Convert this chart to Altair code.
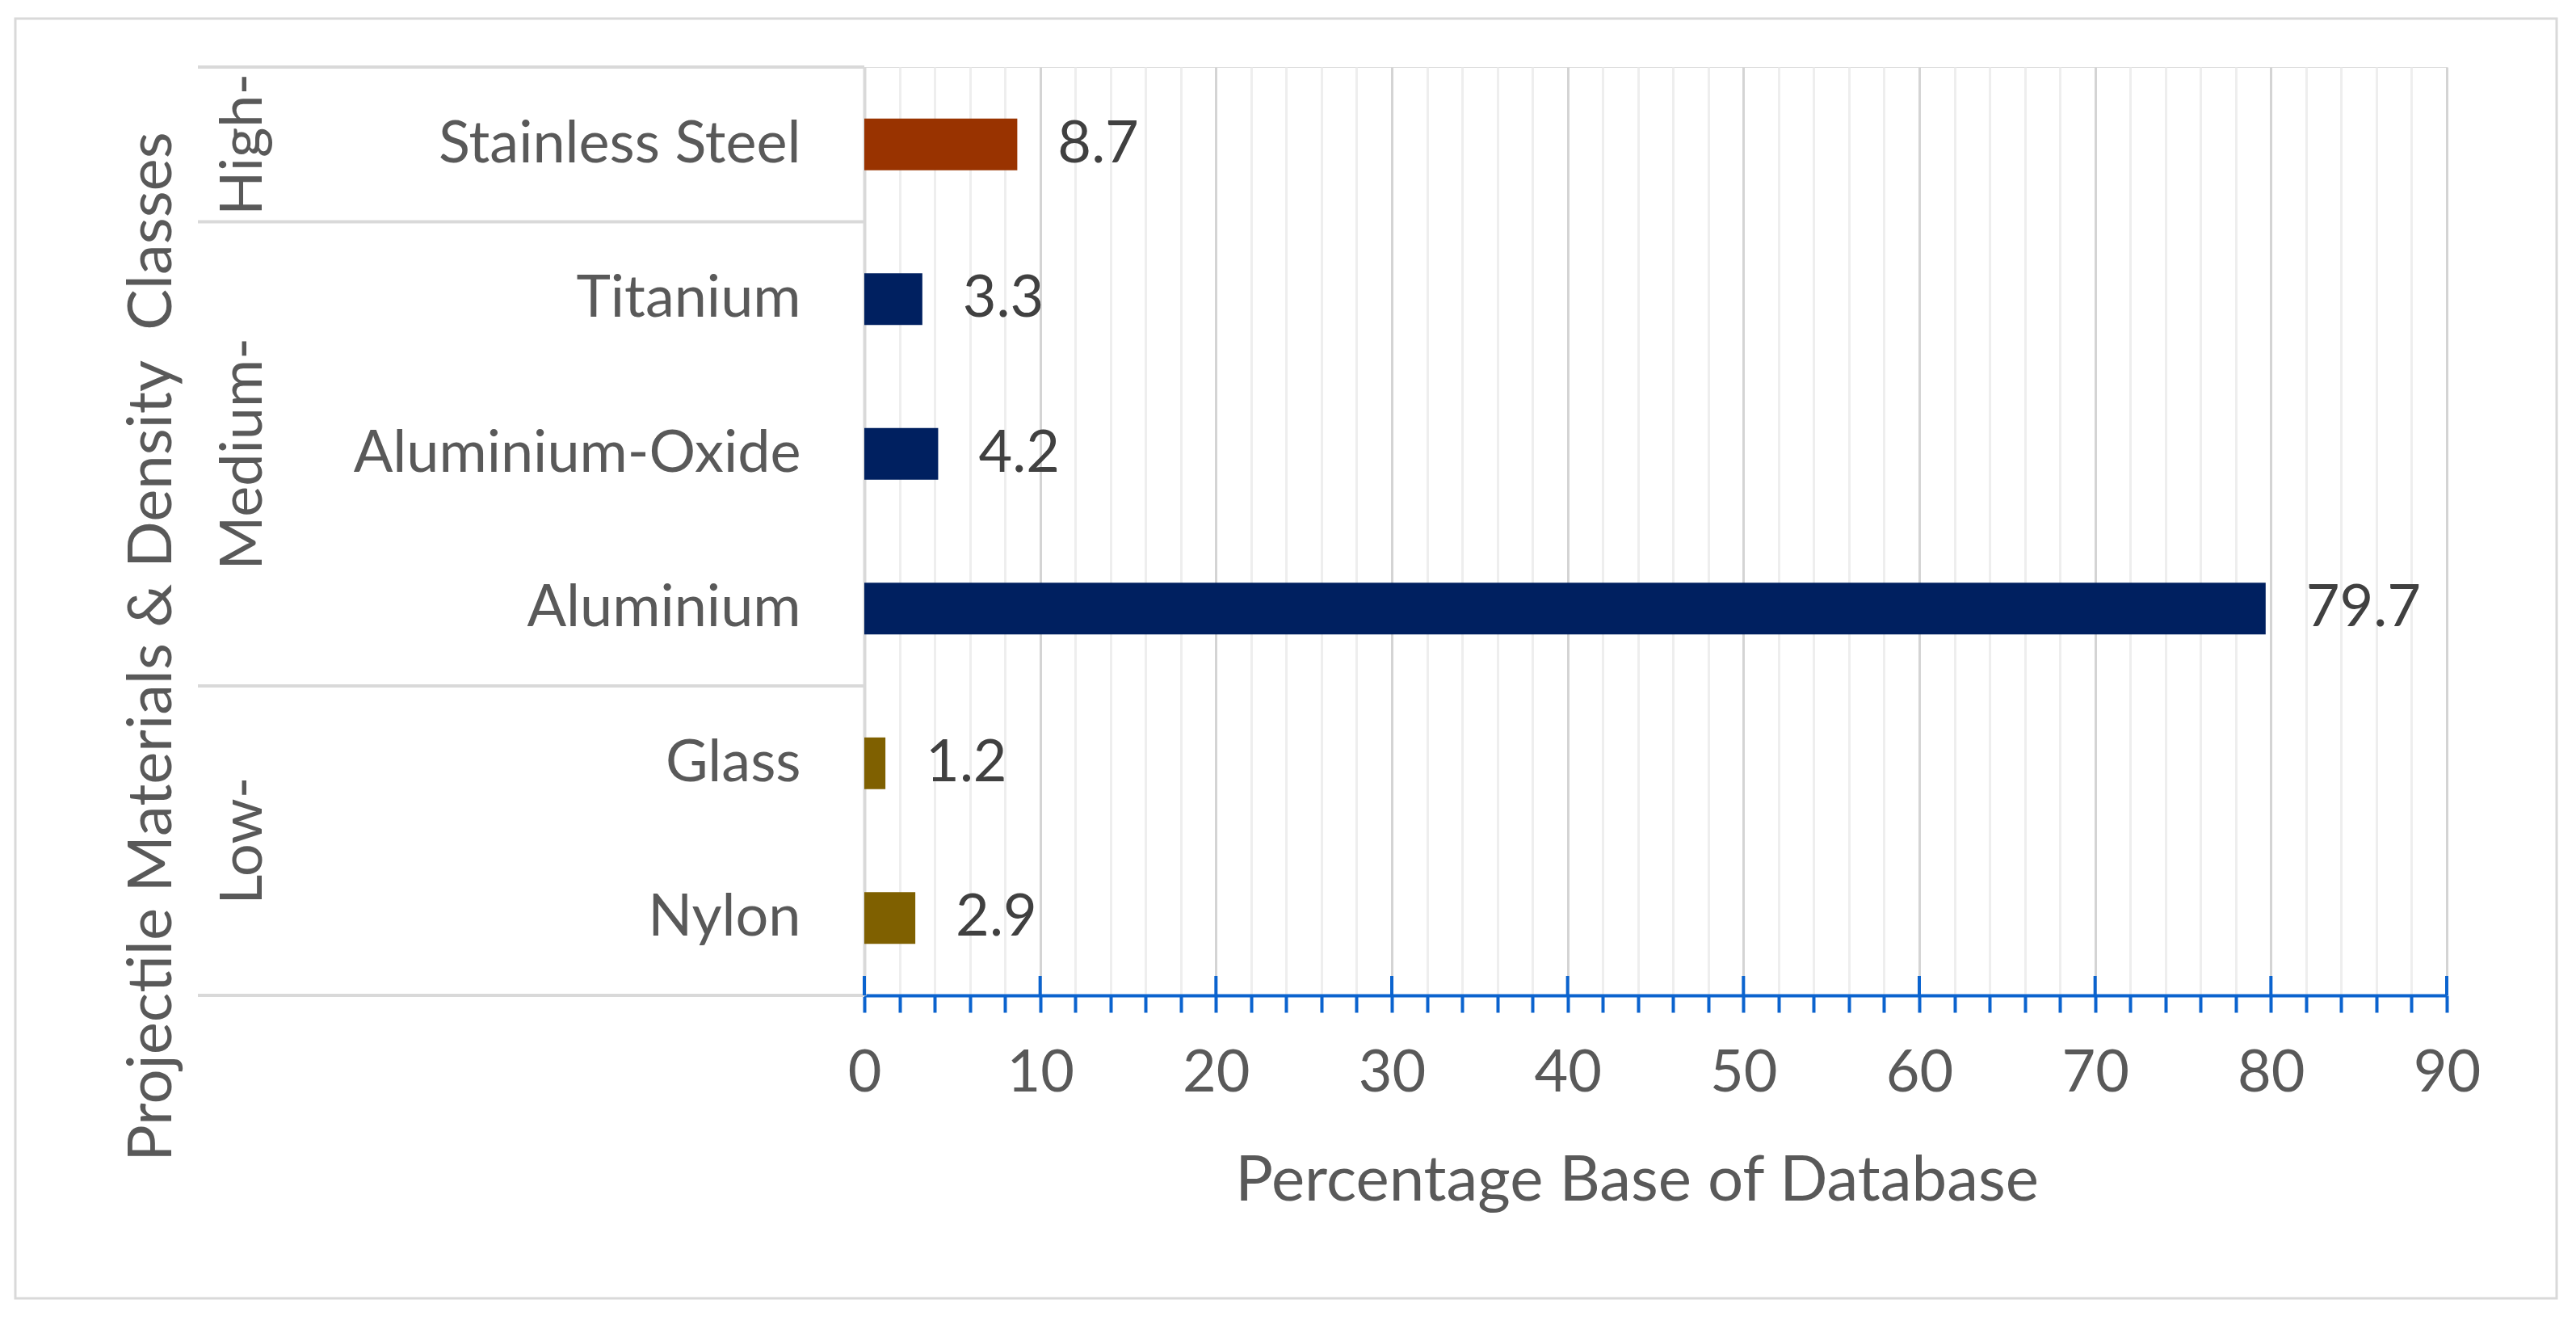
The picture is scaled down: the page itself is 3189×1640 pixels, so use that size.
import altair as alt
import pandas as pd

MATERIALS = ["Stainless Steel", "Titanium", "Aluminium-Oxide", "Aluminium", "Glass", "Nylon"]
VALUES = [8.7, 3.3, 4.2, 79.7, 1.2, 2.9]
GROUPS = ["High-", "Medium-", "Medium-", "Medium-", "Low-", "Low-"]
GROUP_ORDER = ["High-", "Medium-", "Low-"]
GROUP_COLORS = ["#993300", "#002060", "#7F6000"]
MINOR_TICKS = list(range(0, 91, 2))
MAJOR_TICKS = list(range(0, 91, 10))

X_TITLE = "Percentage Base of Database"
Y_TITLE = "Projectile Materials & Density\u00a0 Classes"

W, H = 1959, 1149
FONT = "Lato"
FS = 72
TXT = "#595959"
BLUE = "#0b63ce"
SEP = "#d9d9d9"

df = pd.DataFrame({"material": MATERIALS, "value": VALUES, "group": GROUPS})

xscale = alt.Scale(domain=[0, 90], nice=False, zero=True)
yscale = alt.Scale(domain=MATERIALS, paddingInner=0, paddingOuter=0)

x_axis = alt.Axis(
    values=MINOR_TICKS,
    labelExpr="datum.value % 10 === 0 ? datum.label : ''",
    labelOverlap=False,
    labelFlush=False,
    labelFont=FONT, labelFontSize=FS, labelColor=TXT, labelPadding=40,
    tickSize=21, tickWidth=4, tickColor=BLUE,
    domainColor=BLUE, domainWidth=4,
    grid=True, gridWidth=3,
    gridColor={"condition": {"test": "datum.value % 10 === 0", "value": "#d4d4d4"}, "value": "#eeeeee"},
    title=X_TITLE, titleFont=FONT, titleFontSize=78, titleColor=TXT, titleFontWeight="normal",
    titleX=956, titleY=253, titleBaseline="alphabetic", titleAlign="center",
)
y_axis = alt.Axis(
    ticks=False, labelPadding=79, labelFont=FONT, labelFontSize=FS, labelColor=TXT,
    labelAlign="right", labelBaseline="middle", labelLimit=0,
    domainColor=SEP, domainWidth=4, grid=False,
    title=Y_TITLE, titleFont=FONT, titleFontSize=76, titleColor=TXT, titleFontWeight="normal",
    titleX=-882, titleY=717, titleAngle=270, titleAlign="center", titleBaseline="middle",
)

base = alt.Chart(df)

bars = base.mark_bar(height=alt.RelativeBandSize(band=0.335)).encode(
    x=alt.X("value:Q", scale=xscale, axis=x_axis),
    y=alt.Y("material:N", scale=yscale, sort=MATERIALS, axis=y_axis),
    color=alt.Color("group:N", scale=alt.Scale(domain=GROUP_ORDER, range=GROUP_COLORS), legend=None),
)

labels = base.mark_text(align="left", baseline="middle", dx=50, font=FONT, fontSize=FS, color="#404040").encode(
    x=alt.X("value:Q"),
    y=alt.Y("material:N"),
    text=alt.Text("value:Q", format=".1f"),
)

# group separators (top edge of each group's first category, bottom edge of last)
firsts = [m for i, m in enumerate(MATERIALS) if i == 0 or GROUPS[i] != GROUPS[i - 1]]
sep_top = alt.Chart(pd.DataFrame({"material": firsts})).mark_rule(color=SEP, strokeWidth=4).encode(
    y=alt.Y("material:N", bandPosition=0),
    x=alt.value(-825), x2=alt.value(0),
)
sep_bot = alt.Chart(pd.DataFrame({"material": [MATERIALS[-1]]})).mark_rule(color=SEP, strokeWidth=4).encode(
    y=alt.Y("material:N", bandPosition=1),
    x=alt.value(-825), x2=alt.value(0),
)

group_layers = []
for g in GROUP_ORDER:
    cats = [m for m, gg in zip(MATERIALS, GROUPS) if gg == g]
    n = len(cats)
    if n % 2 == 1:
        anchor, bp = cats[n // 2], 0.5
    else:
        anchor, bp = cats[n // 2 - 1], 1
    group_layers.append(
        alt.Chart(pd.DataFrame({"material": [anchor], "group": [g]})).mark_text(
            angle=270, align="center", baseline="middle", font=FONT, fontSize=FS, color=TXT
        ).encode(
            y=alt.Y("material:N", bandPosition=bp),
            x=alt.value(-768),
            text="group:N",
        )
    )

major = alt.Chart(pd.DataFrame({"value": MAJOR_TICKS})).mark_rule(color=BLUE, strokeWidth=4).encode(
    x=alt.X("value:Q"),
    y=alt.value(H - 24), y2=alt.value(H),
)

frame = alt.Chart(pd.DataFrame({"f": [0]})).mark_rect(fill=None, stroke="#d9d9d9", strokeWidth=3).encode(
    x=alt.value(-1051), x2=alt.value(2095), y=alt.value(-60), y2=alt.value(1524),
)

chart = alt.layer(bars, labels, sep_top, sep_bot, *group_layers, major, frame).properties(
    width=W, height=H,
    autosize=alt.AutoSizeParams(type="none"),
    padding={"left": 1062, "top": 75, "right": 152, "bottom": 396},
).configure_view(stroke=None).configure(background="white")

chart.save("out.html", embed_options={"renderer": "svg", "actions": False})
